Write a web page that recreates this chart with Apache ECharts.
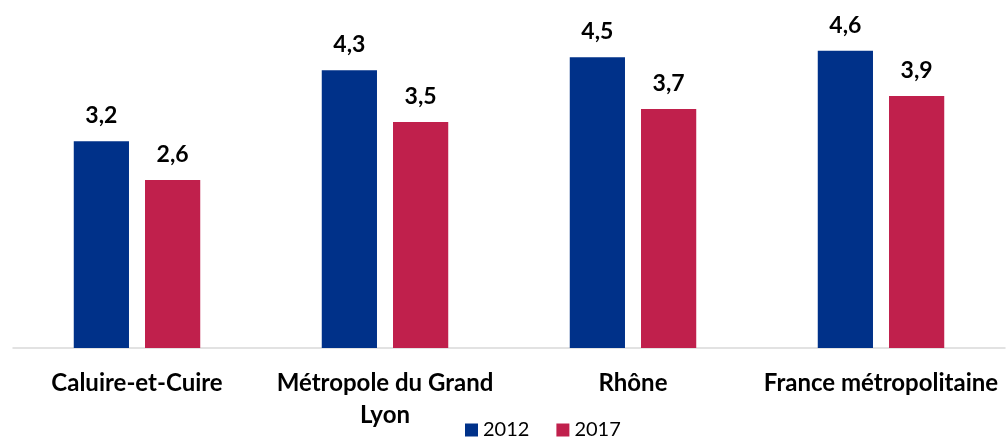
<!DOCTYPE html>
<html>
<head>
<meta charset="utf-8">
<script src="https://cdn.jsdelivr.net/npm/echarts@6/dist/echarts.min.js"></script>
<style>
  html, body { margin: 0; padding: 0; background: #fff; }
  #chart { width: 1007px; height: 441px; }
</style>
</head>
<body>
<div id="chart"></div>
<script>
// categories and values
const categories = ['Caluire-et-Cuire', 'Métropole du Grand\nLyon', 'Rhône', 'France métropolitaine']
const values2012 = [3.2, 4.3, 4.5, 4.6]
const values2017 = [2.6, 3.5, 3.7, 3.9]

const FONT = 'Lato, "Liberation Sans", sans-serif'

const labelStyle = {
  show: true,
  position: 'top',
  distance: 14,
  fontFamily: FONT,
  fontWeight: 'bold',
  fontSize: 23,
  color: '#000',
  formatter: (p) => String(p.value).replace('.', ',')
}

const chart = echarts.init(document.getElementById('chart'), null, { renderer: 'canvas' })

chart.setOption({
  animation: false,
  grid: { left: 13, right: 2, top: 25, bottom: 93 },
  legend: {
    left: 460,
    top: 418,
    padding: [0, 5],
    itemWidth: 13,
    itemHeight: 13,
    itemGap: 27,
    icon: 'rect',
    textStyle: { fontFamily: FONT, fontSize: 20, lineHeight: 24, color: '#000' },
    data: ['2012', '2017']
  },
  xAxis: {
    type: 'category',
    data: categories,
    axisLine: { lineStyle: { color: '#d9d9d9', width: 1.5 } },
    axisTick: { show: false },
    axisLabel: {
      interval: 0,
      margin: 19,
      fontFamily: FONT,
      fontWeight: 'bold',
      fontSize: 24,
      lineHeight: 32,
      color: '#000'
    }
  },
  yAxis: {
    type: 'value',
    min: 0,
    max: 5,
    show: false,
    splitLine: { show: false }
  },
  series: [
    {
      name: '2012',
      type: 'bar',
      data: values2012,
      barGap: '29%',
      barCategoryGap: '49%',
      itemStyle: { color: '#003189' },
      label: labelStyle
    },
    {
      name: '2017',
      type: 'bar',
      data: values2017,
      itemStyle: { color: '#c0204c' },
      label: labelStyle
    }
  ]
})
</script>
</body>
</html>
